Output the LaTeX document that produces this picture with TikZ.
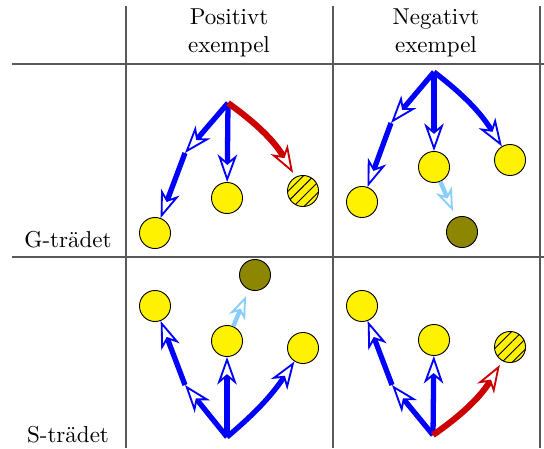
\documentclass[tikz,border=0pt]{standalone}
\usepackage{fontspec}
\usepackage{tikz}
\usetikzlibrary{arrows.meta, patterns.meta}
\definecolor{skyarrow}{RGB}{135,206,250}
\definecolor{badred}{RGB}{204,0,0}

\begin{document}
\begin{tikzpicture}[
  x=0.435pt, y=0.435pt,
  leaf/.style={circle, draw, thin, fill=yellow, minimum size=13.5pt, inner sep=0pt},
  hatched/.style={leaf, postaction={pattern={Lines[angle=45, distance=3.2pt, line width=0.4pt]}}},
  pruned/.style={leaf, fill=olive},
  rule/.style={black!65, line width=0.6pt},
  garr/.style={-{Stealth[open, fill=white, length=12pt, width=8.5pt, inset=3.5pt, line width=0.8pt]}, blue, line width=2.3pt},
  badarr/.style={-{Stealth[open, fill=white, length=12pt, width=8.5pt, inset=3.5pt, line width=0.8pt]}, badred, line width=2.7pt},
  weakarr/.style={-{Stealth[open, fill=white, length=10pt, width=7.5pt, inset=3pt, line width=0.8pt]}, skyarrow, line width=1.9pt}
]
  \useasboundingbox (0,0) rectangle (544,448);
  % table rules
  \draw[rule] (126,442) -- (126,0);
  \draw[rule] (333,442) -- (333,0);
  \draw[rule] (540,442) -- (540,0);
  \draw[rule] (12,384) -- (544,384);
  \draw[rule] (12,191) -- (544,191);

  \node (pos) at (229,415) [align=center] {Positivt\\exempel};
  \node (neg) at (436,415) [align=center] {Negativt\\exempel};
  \node[anchor=base] (gtree) at (68,200) {G-trädet};
  \node[anchor=base] (stree) at (68,6) {S-trädet};

  % G-tree, positive example
  \coordinate (gpRoot) at (228,345);
  \coordinate (gpMid) at (185,295);
  \node[leaf] (gpA) at (155,215) {};
  \node[leaf] (gpB) at (227,250) {};
  \node[hatched] (gpC) at (303,257) {};
  \draw[garr] (gpRoot) -- (gpMid);
  \draw[garr] (gpMid) -- (gpA);
  \draw[garr] (gpRoot) -- (gpB);
  \draw[badarr, shorten >=2pt] (gpRoot) to[bend left=12] (gpC);

  % G-tree, negative example
  \coordinate (gnRoot) at (434,376);
  \coordinate (gnMid) at (391,325);
  \node[leaf] (gnA) at (362,246) {};
  \node[leaf] (gnB) at (434,281) {};
  \node[leaf] (gnC) at (510,288) {};
  \node[pruned] (gnO) at (462,216) {};
  \draw[garr] (gnRoot) -- (gnMid);
  \draw[garr] (gnMid) -- (gnA);
  \draw[garr] (gnRoot) -- (gnB);
  \draw[garr] (gnRoot) to[bend left=10] (gnC);
  \draw[weakarr, shorten >=3pt] (gnB) -- (gnO);

  % S-tree, positive example
  \coordinate (spRoot) at (227,11);
  \coordinate (spMid) at (185,63);
  \node[leaf] (spA) at (155,142) {};
  \node[leaf] (spB) at (227,107) {};
  \node[leaf] (spC) at (303,100) {};
  \node[pruned] (spO) at (255,173) {};
  \draw[garr] (spRoot) -- (spMid);
  \draw[garr] (spMid) -- (spA);
  \draw[garr] (spRoot) -- (spB);
  \draw[garr] (spRoot) to[bend right=8] (spC);
  \draw[weakarr, shorten >=3pt] (spB) -- (spO);

  % S-tree, negative example
  \coordinate (snRoot) at (433,13);
  \coordinate (snMid) at (392,63);
  \node[leaf] (snA) at (362,142) {};
  \node[leaf] (snB) at (434,108) {};
  \node[hatched] (snC) at (510,101) {};
  \draw[garr] (snRoot) -- (snMid);
  \draw[garr] (snMid) -- (snA);
  \draw[garr] (snRoot) -- (snB);
  \draw[badarr, shorten >=2pt] (snRoot) to[bend right=12] (snC);
\end{tikzpicture}
\end{document}
